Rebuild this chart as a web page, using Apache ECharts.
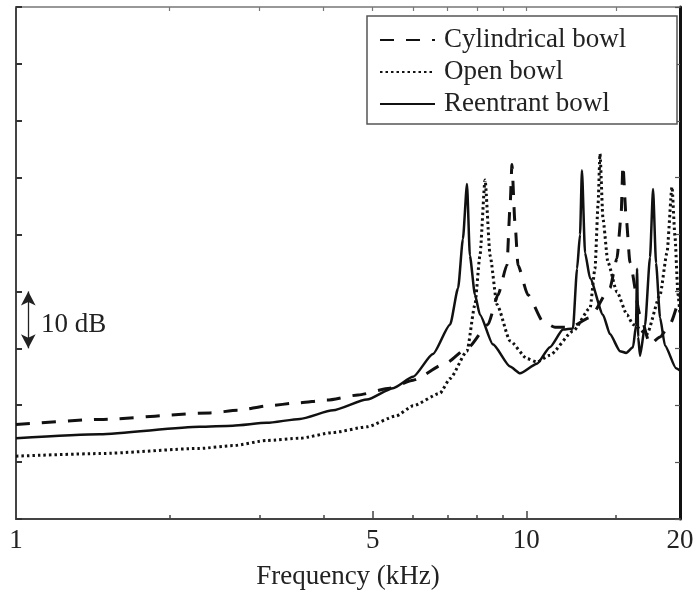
<!DOCTYPE html>
<html>
<head>
<meta charset="utf-8">
<script src="https://cdn.jsdelivr.net/npm/echarts@6/dist/echarts.min.js"></script>
<style>
  html, body { margin: 0; padding: 0; background: #ffffff; }
  #chart { width: 700px; height: 595px; }
</style>
</head>
<body>
<div id="chart"></div>
<script>
// Frequency responses of three bowl shapes (kHz vs relative level in dB)
const seriesNames = ['Cylindrical bowl', 'Open bowl', 'Reentrant bowl'];

const cylFreq = [1, 1.46, 2.40, 2.72, 3.12, 3.55, 4.07, 4.68, 5.40, 6.0, 6.93, 7.70, 8.41, 8.8, 9.16, 9.29, 9.37, 9.50, 9.63, 10.07, 10.78, 11.38, 12.18, 13.33, 14.58, 15.05, 15.33, 15.46, 15.68, 15.96, 16.7, 17.47, 18.28, 19.11, 20];
const cylDb   = [16.6, 17.5, 18.65, 19.1, 19.9, 20.4, 20.9, 21.8, 23.0, 24.4, 27.3, 30.2, 34.2, 39.4, 44.6, 54.9, 62.3, 52.0, 44.6, 39.4, 34.7, 33.7, 33.7, 35.4, 40.6, 45.8, 53.2, 62.2, 53.2, 45.1, 35.9, 30.7, 32.0, 34.2, 39.4];

const openFreq = [1, 1.46, 2.29, 2.66, 3.10, 3.6, 4.18, 4.87, 5.55, 6.0, 6.77, 7.09, 7.65, 7.93, 8.11, 8.30, 8.49, 8.76, 9.29, 10.03, 10.49, 11.12, 12.34, 13.33, 13.63, 13.82, 13.94, 14.13, 14.45, 15.05, 15.75, 16.18, 17.23, 18.28, 18.86, 19.29, 19.55, 19.82, 20];
const openDb   = [11.05, 11.5, 12.4, 12.9, 13.8, 14.2, 15.2, 16.2, 18.1, 19.9, 22.1, 24.7, 29.5, 37.7, 46.3, 59.6, 46.3, 37.7, 31.3, 28.2, 27.6, 28.8, 33.0, 37.1, 44.0, 55.4, 64.2, 52.7, 45.1, 39.9, 35.9, 34.2, 32.5, 39.4, 46.8, 58.4, 49.7, 39.4, 36.0];

const reFreq = [1, 1.46, 2.29, 2.66, 3.10, 3.6, 4.18, 4.87, 5.48, 6.0, 6.56, 7.09, 7.35, 7.51, 7.65, 7.75, 7.93, 8.11, 8.6, 9.29, 9.72, 10.49, 11.12, 11.8, 12.34, 12.57, 12.74, 12.85, 13.03, 13.33, 14.13, 14.58, 15.26, 15.68, 16.18, 16.4, 16.48, 16.56, 16.7, 17.08, 17.47, 17.71, 17.95, 18.28, 18.69, 19.65, 20];
const reDb   = [14.2, 14.9, 16.2, 16.4, 16.9, 17.6, 19.1, 21.0, 23.0, 25.0, 29.0, 34.2, 40.6, 49.2, 58.9, 46.3, 39.4, 35.9, 30.7, 26.8, 25.6, 27.3, 30.2, 33.3, 33.5, 44.0, 50.0, 61.3, 46.8, 42.3, 35.9, 32.5, 29.5, 29.2, 30.2, 34.0, 44.0, 32.0, 28.7, 34.0, 46.0, 58.0, 45.0, 35.4, 30.5, 26.5, 26.1];

// Axis ticks and labels (kHz)
const xLabelValues = [1, 5, 10, 20];
const xMajorTicks = [5, 10];
const xMinorTicks = [2, 3, 4, 6, 7, 8, 9, 15];
const xTopTicks = [2, 3, 4, 5, 6, 7, 8, 9, 10, 15];

// 10 dB scale bar
const scaleBarFreq = 1.057;
const scaleBarDb = [30, 40];

const zip = (xs, ys) => xs.map((x, i) => [x, ys[i]]);

const serif = '"Liberation Serif", "Times New Roman", serif';
const ink = '#111';

const chart = echarts.init(document.getElementById('chart'), null, { renderer: 'canvas' });

chart.setOption({
  backgroundColor: '#ffffff',
  animation: false,
  grid: { left: 16, right: 20, top: 7, bottom: 67, containLabel: false },
  legend: {
    data: seriesNames,
    orient: 'vertical',
    right: 23,
    top: 16,
    padding: [9, 18, 5, 12],
    itemGap: 2,
    itemWidth: 55,
    itemHeight: 14,
    borderColor: '#555',
    borderWidth: 1.5,
    backgroundColor: '#ffffff',
    selectedMode: false,
    itemStyle: { opacity: 0 },
    textStyle: {
      fontFamily: serif, fontSize: 27, color: '#222',
      lineHeight: 30, width: 215, padding: [0, 0, 0, 4]
    }
  },
  xAxis: [
    {
      type: 'log', logBase: 10, min: 1, max: 20, position: 'bottom',
      axisLine: { show: true, lineStyle: { color: '#444', width: 2 } },
      axisTick: { show: true, inside: true, length: 8, customValues: xMajorTicks, lineStyle: { color: '#444', width: 1.5 } },
      axisLabel: { show: true, customValues: xLabelValues, fontFamily: serif, fontSize: 27, color: '#222', margin: 8 },
      splitLine: { show: false },
      minorTick: { show: false },
      name: 'Frequency (kHz)', nameLocation: 'middle', nameGap: 44,
      nameTextStyle: { fontFamily: serif, fontSize: 27, color: '#222' }
    },
    {
      type: 'log', logBase: 10, min: 1, max: 20, position: 'bottom',
      axisLine: { show: false },
      axisTick: { show: true, inside: true, length: 4, customValues: xMinorTicks, lineStyle: { color: '#444', width: 1.5 } },
      axisLabel: { show: false },
      splitLine: { show: false }
    },
    {
      type: 'log', logBase: 10, min: 1, max: 20, position: 'top',
      axisLine: { show: true, lineStyle: { color: '#777', width: 1.5 } },
      axisTick: { show: true, inside: true, length: 4, customValues: xTopTicks, lineStyle: { color: '#777', width: 1.2 } },
      axisLabel: { show: false },
      splitLine: { show: false }
    }
  ],
  yAxis: [
    {
      type: 'value', min: 0, max: 90, interval: 10, position: 'left',
      axisLine: { show: true, lineStyle: { color: '#444', width: 2 } },
      axisTick: { show: true, inside: true, length: 6, lineStyle: { color: '#333', width: 2 } },
      axisLabel: { show: false },
      splitLine: { show: false }
    },
    {
      type: 'value', min: 0, max: 90, interval: 10, position: 'right',
      axisLine: { show: true, lineStyle: { color: '#111', width: 3 } },
      axisTick: { show: true, inside: true, length: 5, lineStyle: { color: '#555', width: 1.2 } },
      axisLabel: { show: false },
      splitLine: { show: false }
    }
  ],
  series: [
    {
      name: seriesNames[0], type: 'line', xAxisIndex: 0, yAxisIndex: 0,
      data: zip(cylFreq, cylDb), symbol: 'none', smooth: 0.2, smoothMonotone: 'x',
      lineStyle: { color: ink, width: 3, type: [14, 12] },
      itemStyle: { color: ink }
    },
    {
      name: seriesNames[1], type: 'line', xAxisIndex: 0, yAxisIndex: 0,
      data: zip(openFreq, openDb), symbol: 'none', smooth: 0.2, smoothMonotone: 'x',
      lineStyle: { color: ink, width: 3, type: [2.5, 3] },
      itemStyle: { color: ink }
    },
    {
      name: seriesNames[2], type: 'line', xAxisIndex: 0, yAxisIndex: 0,
      data: zip(reFreq, reDb), symbol: 'none', smooth: 0.2, smoothMonotone: 'x',
      lineStyle: { color: ink, width: 2.5, type: 'solid' },
      itemStyle: { color: ink },
      markLine: {
        silent: true,
        symbol: ['arrow', 'arrow'],
        symbolSize: [11, 14],
        label: { show: false },
        lineStyle: { color: '#222', width: 1.3, type: 'solid' },
        data: [[
          { coord: [scaleBarFreq, scaleBarDb[0]] },
          { coord: [scaleBarFreq, scaleBarDb[1]] }
        ]]
      }
    }
  ],
  graphic: [
    {
      type: 'text', left: 41, top: 311,
      style: { text: '10 dB', fontFamily: serif, fontSize: 27, fill: '#222' }
    }
  ]
});
</script>
</body>
</html>
